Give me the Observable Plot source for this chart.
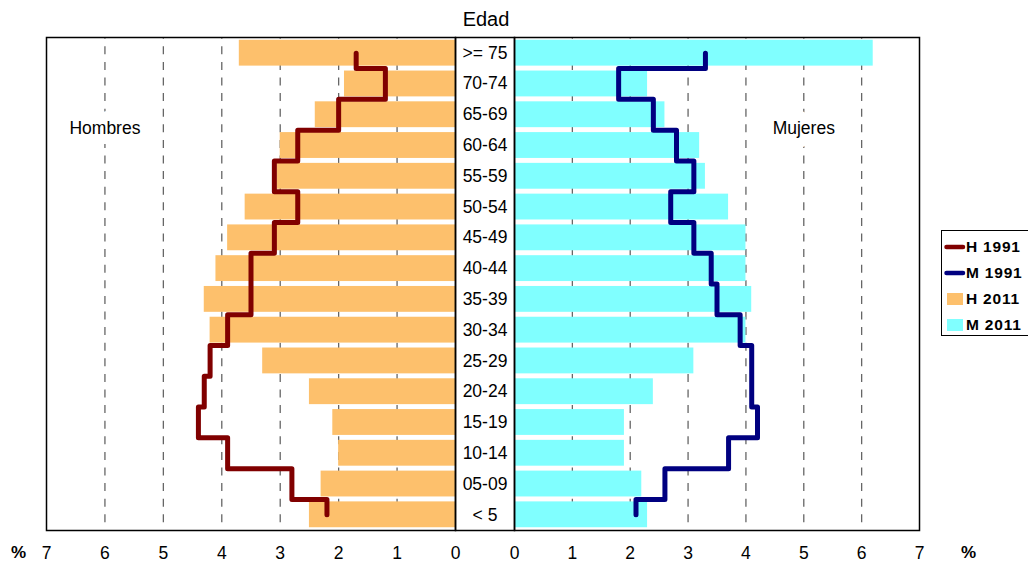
<!DOCTYPE html>
<html>
<head>
<meta charset="utf-8">
<script src="https://cdn.jsdelivr.net/npm/d3@7"></script>
<script src="https://cdn.jsdelivr.net/npm/@observablehq/plot@0.6"></script>
<style>
  html, body { margin: 0; padding: 0; background: #fff; }
  #chart { position: relative; width: 1028px; height: 562px; overflow: hidden; font-family: "Liberation Sans", Arial, sans-serif; }
  #chart > .panel { position: absolute; top: 0; }
  #chart svg { overflow: visible; }
  .title { position: absolute; left: 436px; top: 9px; width: 100px; text-align: center; font-size: 20px; line-height: 20px; }
  .pct { position: absolute; top: 544px; font-size: 17px; font-weight: bold; line-height: 17px; }
  .legend { position: absolute; left: 941px; top: 230px; width: 100px; height: 106px; border: 1.5px solid #000; box-sizing: border-box; background: #fff; }
  .legend .row { position: absolute; left: 0; height: 20px; display: flex; align-items: center; font-weight: bold; font-size: 15.5px; letter-spacing: 0.8px; }
  .legend svg { display: block; }
</style>
</head>
<body>
<div id="chart"></div>
<script>
// ---- data ----
const ages = [">= 75", "70-74", "65-69", "60-64", "55-59", "50-54", "45-49", "40-44",
              "35-39", "30-34", "25-29", "20-24", "15-19", "10-14", "05-09", "< 5"];
const h2011 = [3.7, 1.9, 2.4, 3.0, 3.05, 3.6, 3.9, 4.1, 4.3, 4.2, 3.3, 2.5, 2.1, 2.0, 2.3, 2.5];
const h1991 = [1.7, 1.2, 2.0, 2.7, 3.1, 2.7, 3.1, 3.5, 3.5, 3.9, 4.2, 4.3, 4.4, 3.9, 2.8, 2.2];
const m2011 = [6.2, 2.3, 2.6, 3.2, 3.3, 3.7, 4.0, 4.0, 4.1, 4.0, 3.1, 2.4, 1.9, 1.9, 2.2, 2.3];
const m1991 = [3.3, 1.8, 2.4, 2.8, 3.1, 2.7, 3.1, 3.4, 3.5, 3.9, 4.1, 4.1, 4.2, 3.7, 2.6, 2.1];
const xTicks = [0, 1, 2, 3, 4, 5, 6, 7];
const gridTicks = [1, 2, 3, 4, 5, 6];
const seriesNames = ["H 1991", "M 1991", "H 2011", "M 2011"];
const colors = { "H 1991": "#800000", "M 1991": "#000080", "H 2011": "#fdc06c", "M 2011": "#80ffff" };

// step curve that changes x halfway between successive y positions
function curveStepY(context) {
  let px, py, first;
  return {
    areaStart() {}, areaEnd() {},
    lineStart() { first = true; },
    lineEnd() {},
    point(x, y) {
      x = +x; y = +y;
      if (first) { context.moveTo(x, y); first = false; }
      else {
        const ym = (py + y) / 2;
        context.lineTo(px, ym);
        context.lineTo(x, ym);
        context.lineTo(x, y);
      }
      px = x; py = y;
    }
  };
}

const FONT = "Liberation Sans, Arial, sans-serif";
const common = {
  height: 562, marginTop: 37, marginBottom: 32,
  style: { background: "transparent", fontFamily: FONT, fontSize: "17.5px", color: "#000", overflow: "visible" },
};
const yScale = { domain: ages, paddingInner: 0.16, paddingOuter: 0.09, round: false, axis: null };
const gridStyle = { stroke: "#666", strokeWidth: 1.3, strokeDasharray: "8,7.6", strokeDashoffset: 6.3, strokeOpacity: 1 };

function panel(side) {
  const isLeft = side === "left";
  const bars = isLeft ? h2011 : m2011;
  const lines = isLeft ? h1991 : m1991;
  const barKey = isLeft ? "H 2011" : "M 2011";
  const lineKey = isLeft ? "H 1991" : "M 1991";
  return Plot.plot({
    ...common,
    width: isLeft ? 460 : 528,
    marginLeft: isLeft ? 46 : 14,
    marginRight: isLeft ? 5 : 109,
    x: { domain: [0, 7], reverse: isLeft, ticks: xTicks, tickSize: 0, tickPadding: 16, tickFormat: d => String(d), label: null },
    y: yScale,
    marks: [
      Plot.ruleX(gridTicks, { x: d => d, ...gridStyle }),
      Plot.barX(ages, { y: d => d, x: (d, i) => bars[i], fill: colors[barKey] }),
      Plot.line(ages, { y: d => d, x: (d, i) => lines[i], curve: curveStepY, stroke: colors[lineKey],
                        strokeWidth: 5, strokeLinecap: "round", strokeLinejoin: "round" }),
      Plot.text([isLeft ? "Hombres" : "Mujeres"], { x: isLeft ? 6 : 5, y: () => "65-69", dy: 14,
                        text: d => d, fill: "#000", stroke: "white", strokeWidth: 20, fontSize: 17.5 }),
      Plot.frame({ stroke: "#000", strokeWidth: 1.5 })
    ]
  });
}

const center = Plot.plot({
  ...common,
  width: 59, marginLeft: 0, marginRight: 0,
  y: yScale,
  marks: [
    Plot.text(ages, { y: d => d, text: d => d, frameAnchor: "middle", fill: "#000", fontSize: 17.5 }),
    Plot.frame({ stroke: "#000", strokeWidth: 1.5 })
  ]
});

const root = document.getElementById("chart");
function place(node, left) {
  const div = document.createElement("div");
  div.className = "panel";
  div.style.left = left + "px";
  div.appendChild(node);
  root.appendChild(div);
}
place(panel("left"), 0);
place(panel("right"), 500);
place(center, 455);

// title
const title = document.createElement("div");
title.className = "title";
title.textContent = "Edad";
root.appendChild(title);

// % labels
[[11, "%"], [961, "%"]].forEach(([left, t]) => {
  const s = document.createElement("div");
  s.className = "pct";
  s.style.left = left + "px";
  s.textContent = t;
  root.appendChild(s);
});

// legend
const legend = document.createElement("div");
legend.className = "legend";
seriesNames.forEach((name, i) => {
  const row = document.createElement("div");
  row.className = "row";
  row.style.top = (6 + i * 26) + "px";
  const isLine = name.endsWith("1991");
  const sw = d3.create("svg").attr("width", 24).attr("height", 20);
  if (isLine) {
    sw.append("line").attr("x1", 4.5).attr("x2", 21).attr("y1", 10).attr("y2", 10)
      .attr("stroke", colors[name]).attr("stroke-width", 4.5).attr("stroke-linecap", "round");
  } else {
    sw.append("rect").attr("x", 5).attr("y", 4).attr("width", 16).attr("height", 12).attr("fill", colors[name]);
  }
  row.appendChild(sw.node());
  const label = document.createElement("span");
  label.textContent = name;
  row.appendChild(label);
  legend.appendChild(row);
});
root.appendChild(legend);
</script>
</body>
</html>
